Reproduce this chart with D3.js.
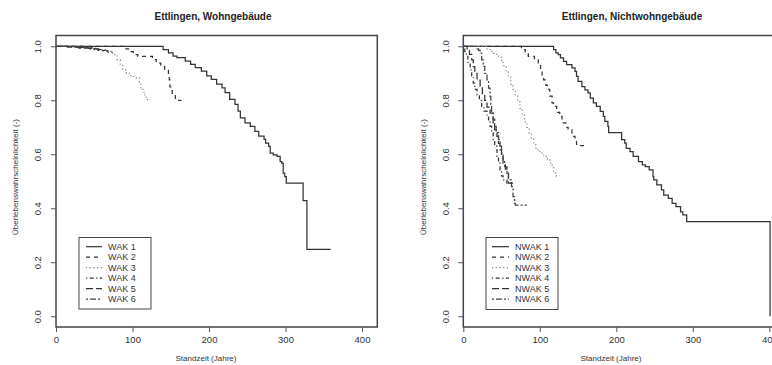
<!DOCTYPE html>
<html><head><meta charset="utf-8">
<script src="https://cdn.jsdelivr.net/npm/d3@7"></script>
<style>
body{margin:0;background:#fff;}
svg{display:block;font-family:"Liberation Sans",Arial,sans-serif;}
</style></head>
<body><svg id="c" width="772" height="365"></svg>
<script>
// ---- data: Kaplan-Meier steps [time, survival]; end arrays give where each curve stops ----
const titles = ["Ettlingen, Wohngebäude", "Ettlingen, Nichtwohngebäude"];
const xLabel = "Standzeit (Jahre)";
const yLabel = "Überlebenswahrscheinlichkeit (-)";
const xTicks = [0, 100, 200, 300, 400];
const yTicks = [0, 0.2, 0.4, 0.6, 0.8, 1.0];

const wakNames = ["WAK 1", "WAK 2", "WAK 3", "WAK 4", "WAK 5", "WAK 6"];
const nwakNames = ["NWAK 1", "NWAK 2", "NWAK 3", "NWAK 4", "NWAK 5", "NWAK 6"];

const wak1 = [[0,1],[140,0.988],[147,0.976],[153,0.964],[158,0.958],[169,0.945],[176,0.933],[182,0.921],[190,0.908],[197,0.89],[203,0.877],[210,0.86],[217,0.846],[221,0.828],[227,0.803],[234,0.785],[238,0.76],[241,0.735],[247,0.716],[254,0.703],[260,0.685],[265,0.667],[272,0.655],[274,0.641],[278,0.629],[280,0.604],[284,0.598],[289,0.592],[293,0.573],[295,0.567],[297,0.53],[299,0.517],[301,0.493],[323,0.428],[328,0.248]];
const wak2 = [[0,1],[88,0.99],[95,0.98],[101,0.969],[107,0.963],[126,0.951],[131,0.938],[137,0.926],[142,0.913],[147,0.9],[148,0.876],[149,0.85],[150,0.84],[152,0.82],[156,0.80]];
const wak3 = [[0,1],[20,0.996],[44,0.988],[65,0.981],[74,0.969],[80,0.95],[84,0.932],[87,0.913],[92,0.90],[98,0.889],[105,0.882],[109,0.864],[111,0.84],[115,0.82],[118,0.802]];
const wak4 = [[0,1],[25,0.996],[40,0.992],[52,0.988],[60,0.983],[68,0.978]];
const wak5 = [[0,1],[15,0.997],[30,0.993],[45,0.99],[55,0.985]];
const wak6 = [[0,1],[35,0.995],[50,0.99]];
const wakEnd = [359, 164, 124, 75, 65, 58];

const nwak1 = [[0,1],[118,0.988],[121,0.976],[124,0.969],[127,0.957],[131,0.944],[135,0.932],[142,0.92],[146,0.907],[148,0.889],[150,0.87],[155,0.851],[159,0.839],[163,0.827],[166,0.808],[170,0.79],[174,0.777],[179,0.759],[183,0.74],[185,0.722],[189,0.703],[190,0.68],[207,0.654],[211,0.641],[213,0.622],[218,0.61],[222,0.592],[229,0.573],[234,0.561],[238,0.554],[243,0.542],[248,0.517],[249,0.505],[253,0.487],[259,0.468],[262,0.449],[268,0.437],[273,0.418],[278,0.406],[284,0.387],[287,0.375],[292,0.35],[401,0.0]];
const nwak2 = [[0,1],[76,0.988],[81,0.975],[85,0.963],[93,0.954],[98,0.938],[101,0.913],[103,0.89],[105,0.876],[108,0.855],[110,0.84],[113,0.815],[116,0.79],[118,0.777],[122,0.755],[126,0.74],[129,0.716],[134,0.7],[137,0.69],[142,0.666],[146,0.648],[148,0.632]];
const nwak3 = [[0,1],[30,0.99],[35,0.98],[40,0.97],[46,0.96],[50,0.94],[53,0.925],[56,0.907],[59,0.885],[62,0.86],[65,0.84],[68,0.815],[71,0.795],[74,0.77],[77,0.745],[80,0.72],[83,0.7],[86,0.678],[89,0.655],[92,0.635],[95,0.616],[100,0.604],[105,0.592],[110,0.58],[113,0.567],[116,0.554],[118,0.53],[121,0.52]];
const nwak4 = [[0,1],[2,0.98],[4,0.963],[6,0.94],[9,0.913],[11,0.89],[13,0.864],[15,0.84],[18,0.82],[21,0.8],[24,0.777],[27,0.76],[31,0.74],[33,0.72],[35,0.703],[37,0.68],[39,0.654],[41,0.63],[44,0.592],[46,0.567],[48,0.542],[50,0.52],[52,0.505],[57,0.493]];
const nwak5 = [[0,1],[5,0.985],[8,0.97],[11,0.95],[13,0.925],[15,0.9],[18,0.875],[22,0.851],[25,0.825],[28,0.80],[31,0.775],[35,0.752],[39,0.716],[41,0.69],[44,0.666],[46,0.64],[48,0.616],[50,0.59],[52,0.567],[55,0.545],[57,0.53],[59,0.493]];
const nwak6 = [[0,1],[18,0.99],[20,0.985],[22,0.975],[24,0.95],[26,0.926],[28,0.9],[31,0.876],[33,0.845],[35,0.814],[36,0.785],[37,0.752],[39,0.73],[41,0.703],[43,0.68],[46,0.654],[48,0.63],[50,0.604],[52,0.58],[54,0.554],[57,0.53],[59,0.505],[63,0.48],[65,0.443],[67,0.418],[68,0.412]];
const nwakEnd = [401, 163, 126, 63, 65, 83];

// ---- styles (R line types) ----
const dashes = [null, "4,4", "1.2,2.5", "1.2,2.5,4,2.5", "7,3", "2,2,6,2"];
const strokes = ["#333", "#333", "#888", "#333", "#333", "#444"];

const svg = d3.select("#c");
const font = "'Liberation Sans', Arial, sans-serif";

const panels = [
  {left:56, title:titles[0], titleX:213, xlabX:206, ylabX:15, names:wakNames, series:[wak1,wak2,wak3,wak4,wak5,wak6], ends:wakEnd,
   legend:{x:79, y:237.5, w:72, h:71.5, lx0:86, lx1:102, tx:108}},
  {left:463.3, title:titles[1], titleX:632, xlabX:611, ylabX:423, names:nwakNames, series:[nwak1,nwak2,nwak3,nwak4,nwak5,nwak6], ends:nwakEnd,
   legend:{x:486, y:237.5, w:72, h:72, lx0:492, lx1:509, tx:515}}
];

panels.forEach(p => {
  const x = d3.scaleLinear().domain([0, 420]).range([p.left, p.left + 321.3]);
  const y = d3.scaleLinear().domain([-0.04, 1.04]).range([327, 35.5]);
  const g = svg.append("g");

  const line = d3.line().x(d => x(d[0])).y(d => y(d[1])).curve(d3.curveStepAfter);
  p.series.forEach((s, i) => {
    const pts = s.concat([[p.ends[i], s[s.length - 1][1]]]);
    g.append("path").attr("d", line(pts)).attr("fill", "none")
      .attr("stroke", strokes[i]).attr("stroke-width", 1.25)
      .attr("stroke-dasharray", dashes[i]);
  });

  g.append("rect").attr("x", x(0)).attr("y", y(1.04)).attr("width", x(420) - x(0)).attr("height", y(-0.04) - y(1.04))
    .attr("fill", "none").attr("stroke", "#444").attr("stroke-width", 1.5);

  const ax = g.append("g").attr("transform", `translate(0,${y(-0.04)})`)
    .call(d3.axisBottom(x).tickValues(xTicks).tickSize(5).tickFormat(d3.format("d")));
  ax.select(".domain").remove();
  ax.selectAll("line").attr("stroke", "#555");
  ax.selectAll("text").attr("y", 13).attr("dy", "0.35em").attr("font-size", 9.5).attr("fill", "#333").attr("font-family", font);

  const ay = g.append("g").attr("transform", `translate(${x(0)},0)`)
    .call(d3.axisLeft(y).tickValues(yTicks).tickSize(5).tickFormat(d3.format(".1f")));
  ay.select(".domain").remove();
  ay.selectAll("line").attr("stroke", "#555");
  ay.selectAll("text").attr("x", 0).attr("dy", "0.35em").attr("text-anchor", "middle")
    .attr("transform", "translate(-18,0) rotate(-90)")
    .attr("font-size", 9.5).attr("fill", "#333").attr("font-family", font);

  g.append("text").attr("x", p.titleX).attr("y", 16).attr("dy", "0.35em").attr("text-anchor", "middle")
    .attr("font-weight", "bold").attr("font-size", 10).attr("fill", "#222").text(p.title);
  g.append("text").attr("x", p.xlabX).attr("y", 358).attr("dy", "0.35em").attr("text-anchor", "middle")
    .attr("font-size", 8).attr("fill", "#333").text(xLabel);
  g.append("text").attr("transform", `translate(${p.ylabX},177) rotate(-90)`).attr("dy", "0.35em").attr("text-anchor", "middle")
    .attr("font-size", 8).attr("fill", "#333").text(yLabel);

  const L = p.legend;
  g.append("rect").attr("x", L.x).attr("y", L.y).attr("width", L.w).attr("height", L.h)
    .attr("fill", "#fff").attr("stroke", "#444").attr("stroke-width", 1);
  p.names.forEach((n, i) => {
    const yy = 246.7 + i * 10.5;
    g.append("line").attr("x1", L.lx0).attr("x2", L.lx1).attr("y1", yy).attr("y2", yy)
      .attr("stroke", strokes[i]).attr("stroke-width", 1.2).attr("stroke-dasharray", dashes[i]);
    g.append("text").attr("x", L.tx).attr("y", yy).attr("dy", "0.35em").attr("font-size", 9)
      .attr("fill", "#333").text(n);
  });
});
</script></body></html>
